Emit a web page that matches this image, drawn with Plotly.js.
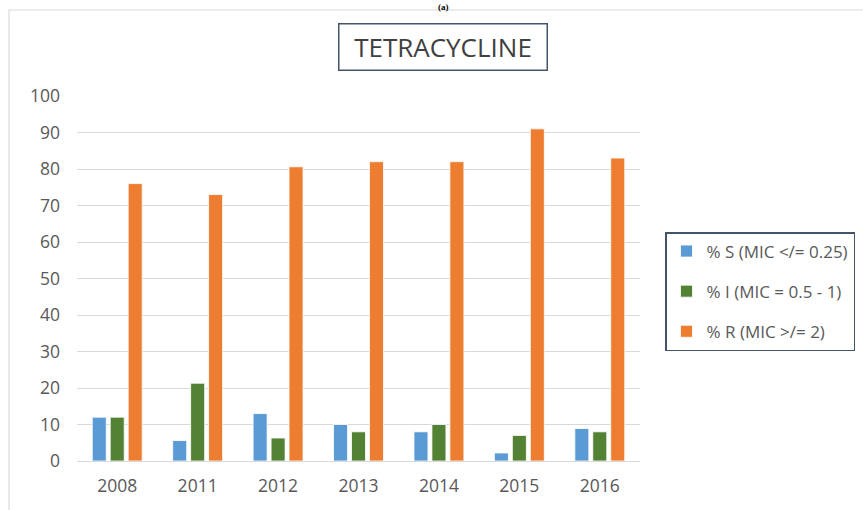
<!DOCTYPE html>
<html>
<head>
<meta charset="utf-8">
<script src="https://cdn.plot.ly/plotly-3.0.1.min.js"></script>
<style>html,body{margin:0;padding:0;background:#fff;}#chart{width:863px;height:510px;}</style>
</head>
<body>
<div id="chart"></div>
<script>
const years = ['2008', '2011', '2012', '2013', '2014', '2015', '2016'];
const seriesNames = ['% S (MIC </= 0.25)', '% I (MIC = 0.5 - 1)', '% R (MIC >/= 2)'];
const pctS = [12, 5.6, 13, 10, 8, 2.2, 8.9];
const pctI = [12, 21.3, 6.3, 8, 10, 7, 8];
const pctR = [76, 73, 80.6, 82, 82, 91, 83];
const yTicks = [0, 10, 20, 30, 40, 50, 60, 70, 80, 90, 100];
const colors = ['#5B9BD5', '#548235', '#ED7D31'];
const chartTitle = 'TETRACYCLINE';

const FONT = 'Open Sans, Liberation Sans, sans-serif';
const allVals = [pctS, pctI, pctR];
const traces = allVals.map((v, i) => ({
  type: 'bar',
  name: seriesNames[i],
  x: years,
  y: v,
  legendgroup: 'g' + i,
  marker: {color: colors[i], line: {color: '#ffffff', width: 0.8}},
  hoverinfo: 'x+y+name'
}));

const L = 77, R = 640, T = 96, B = 461;
const W = R - L, H = B - T;
const px = x => (x - L) / W;
const py = y => (B - y) / H;

const layout = {
  width: 863, height: 510,
  margin: {l: L, r: 863 - R, t: T, b: 510 - B, pad: 0, autoexpand: false},
  paper_bgcolor: '#ffffff', plot_bgcolor: '#ffffff',
  font: {family: FONT, color: '#595959', size: 16},
  barmode: 'group',
  bargap: 0.33,
  bargroupgap: 0.22,
  showlegend: true,
  legend: {
    x: px(665), y: py(232), xanchor: 'left', yanchor: 'top',
    bordercolor: '#44546A', borderwidth: 1.5,
    font: {family: FONT, size: 17, color: '#595959'},
    traceorder: 'grouped', tracegroupgap: 15,
    itemwidth: 30
  },
  xaxis: {
    type: 'category',
    showgrid: false, zeroline: false, showline: false,
    ticks: '', ticklabelstandoff: 12,
    tickfont: {family: FONT, size: 17.5, color: '#595959'},
    fixedrange: true
  },
  yaxis: {
    range: [0, 100],
    tickvals: yTicks,
    showgrid: true, gridcolor: '#D9D9D9', gridwidth: 1.3,
    zeroline: true, zerolinecolor: '#D9D9D9', zerolinewidth: 1.3,
    showline: false, ticks: '', ticklabelstandoff: 16,
    tickfont: {family: FONT, size: 17.5, color: '#595959'},
    fixedrange: true
  },
  annotations: [
    {
      text: chartTitle, xref: 'paper', yref: 'paper',
      x: px(442.5), y: py(46.8), xanchor: 'center', yanchor: 'middle',
      showarrow: false, width: 207, height: 45,
      bordercolor: '#44546A', borderwidth: 1.5, borderpad: 0,
      font: {family: FONT, size: 26, color: '#404040'}
    },
    {
      text: '<b>(a)</b>', xref: 'paper', yref: 'paper',
      x: px(443), y: py(0), xanchor: 'center', yanchor: 'top',
      showarrow: false,
      font: {family: 'Liberation Serif, serif', size: 9, color: '#000000'}
    }
  ],
  shapes: [
    {
      type: 'rect', xref: 'paper', yref: 'paper', layer: 'below',
      x0: px(9), x1: px(880), y0: py(520), y1: py(10),
      line: {color: '#D9D9D9', width: 1.2}, fillcolor: 'rgba(0,0,0,0)'
    }
  ]
};

Plotly.newPlot('chart', traces, layout, {displayModeBar: false, staticPlot: false});
</script>
</body>
</html>
